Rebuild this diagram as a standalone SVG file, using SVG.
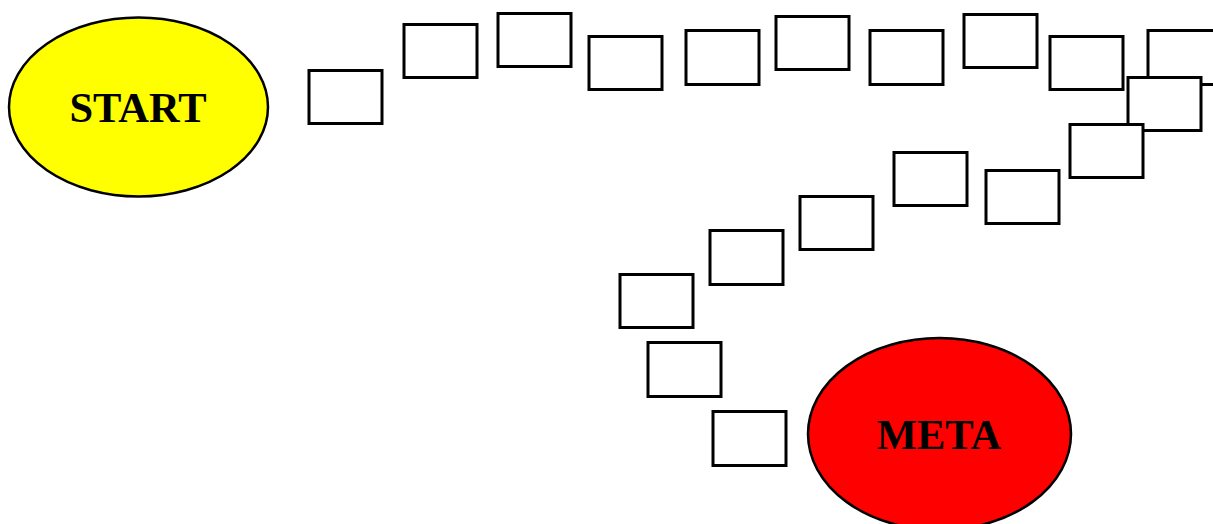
<svg xmlns="http://www.w3.org/2000/svg" width="1213" height="524" viewBox="0 0 1213 524">
<style>
.box{fill:#fff;stroke:#000;stroke-width:3}
.ell{stroke:#000;stroke-width:2.5}
.lbl{font-family:"Liberation Serif",serif;font-weight:bold;font-size:42.5px;text-anchor:middle;fill:#000}
</style>
<rect width="1213" height="524" fill="#fff"/>
<g id="connectors"></g>
<g id="start"><ellipse class="ell" cx="138.5" cy="107" rx="129.5" ry="89.5" fill="#ffff00"/><text class="lbl" x="138" y="122">START</text></g>
<g id="meta"><ellipse class="ell" cx="939.5" cy="434" rx="131.5" ry="96" fill="#ff0000"/><text class="lbl" x="939" y="449">META</text></g>
<g id="b1"><rect class="box" x="309" y="70.5" width="73" height="53"/></g>
<g id="b2"><rect class="box" x="404" y="24.5" width="73" height="53"/></g>
<g id="b3"><rect class="box" x="498" y="13.5" width="73" height="53"/></g>
<g id="b4"><rect class="box" x="589" y="36.5" width="73" height="53"/></g>
<g id="b5"><rect class="box" x="686" y="30.5" width="73" height="54"/></g>
<g id="b6"><rect class="box" x="776" y="16.5" width="73" height="53"/></g>
<g id="b7"><rect class="box" x="870" y="30.5" width="73" height="54"/></g>
<g id="b8"><rect class="box" x="964" y="14.5" width="73" height="53"/></g>
<g id="b9"><rect class="box" x="1050" y="36.5" width="73" height="53"/></g>
<g id="b10"><rect class="box" x="1148" y="30.5" width="73" height="54"/></g>
<g id="b11"><rect class="box" x="1128" y="77.5" width="73" height="53"/></g>
<g id="b12"><rect class="box" x="1070" y="124.5" width="73" height="53"/></g>
<g id="b13"><rect class="box" x="986" y="170.5" width="73" height="53"/></g>
<g id="b14"><rect class="box" x="894" y="152.5" width="73" height="53"/></g>
<g id="b15"><rect class="box" x="800" y="196.5" width="73" height="53"/></g>
<g id="b16"><rect class="box" x="710" y="230.5" width="73" height="54"/></g>
<g id="b17"><rect class="box" x="620" y="274.5" width="73" height="53"/></g>
<g id="b18"><rect class="box" x="648" y="342.5" width="73" height="54"/></g>
<g id="b19"><rect class="box" x="713" y="411.5" width="73" height="54"/></g>
</svg>
